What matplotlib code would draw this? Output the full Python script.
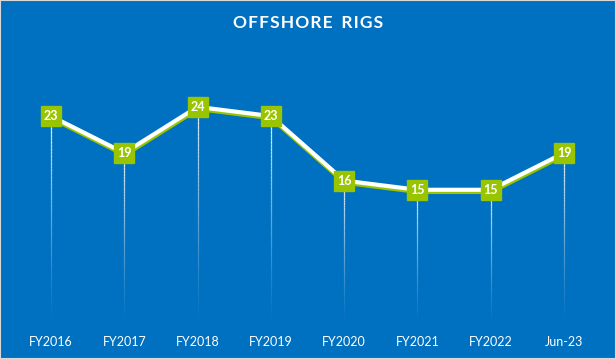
import matplotlib.pyplot as plt
import matplotlib.transforms as mtransforms
import numpy as np

categories = ["FY2016", "FY2017", "FY2018", "FY2019", "FY2020", "FY2021", "FY2022", "Jun-23"]
rigs = [23, 19, 24, 23, 16, 15, 15, 19]

BG = "#0070C0"
GREEN = "#99C400"

plt.rcParams['font.family'] = ['Lato', 'DejaVu Sans']

fig = plt.figure(figsize=(6.16, 3.59), dpi=100, facecolor=BG)
fig.patches.append(plt.Rectangle((0, 0), 1, 1, transform=fig.transFigure,
                                 fill=False, edgecolor="#D9D9D9", lw=1.5))
ax = fig.add_axes([14.3 / 616, 31 / 359, 586.4 / 616, 258 / 359])
ax.set_facecolor(BG)
x = np.arange(len(categories))
ax.set_xlim(-0.5, len(categories) - 0.5)
ax.set_ylim(0, 28)

# drop lines fading towards the baseline
n = 60
for xi, yi in zip(x, rigs):
    ys = np.linspace(yi, 0.3, n + 1)
    for k in range(n):
        a = 1 - k / n
        ax.plot([xi, xi], [ys[k], ys[k + 1]], color="white", lw=0.9,
                alpha=a ** 1.3 * 0.95, solid_capstyle="butt", zorder=1)

# green shadow line, white line on top
shadow = mtransforms.offset_copy(ax.transData, fig=fig, x=0.5, y=-2.2, units="dots")
ax.plot(x, rigs, color=GREEN, lw=3, transform=shadow, zorder=2)
ax.plot(x, rigs, color="white", lw=3, zorder=3)
ax.plot(x, rigs, ls="none", marker="s", ms=14.5, mfc=GREEN, mec=GREEN, zorder=4)
for xi, yi in zip(x, rigs):
    ax.text(xi, yi, str(yi), color="white", fontsize=9, fontweight="bold",
            ha="center", va="center", zorder=5)

ax.set_xticks(x)
ax.set_xticklabels(categories, color="white", fontsize=9)
ax.tick_params(axis="x", length=0, pad=6)
ax.set_yticks([])
for s in ax.spines.values():
    s.set_visible(False)

title = "\u200a".join("OFFSHORE") + "\u2002" + "\u200a".join("RIGS")
fig.text(0.5, 0.935, title, color="white",
         fontsize=12.5, fontweight="bold", ha="center", va="center")

fig.savefig("out.png", dpi=100, facecolor=BG)
